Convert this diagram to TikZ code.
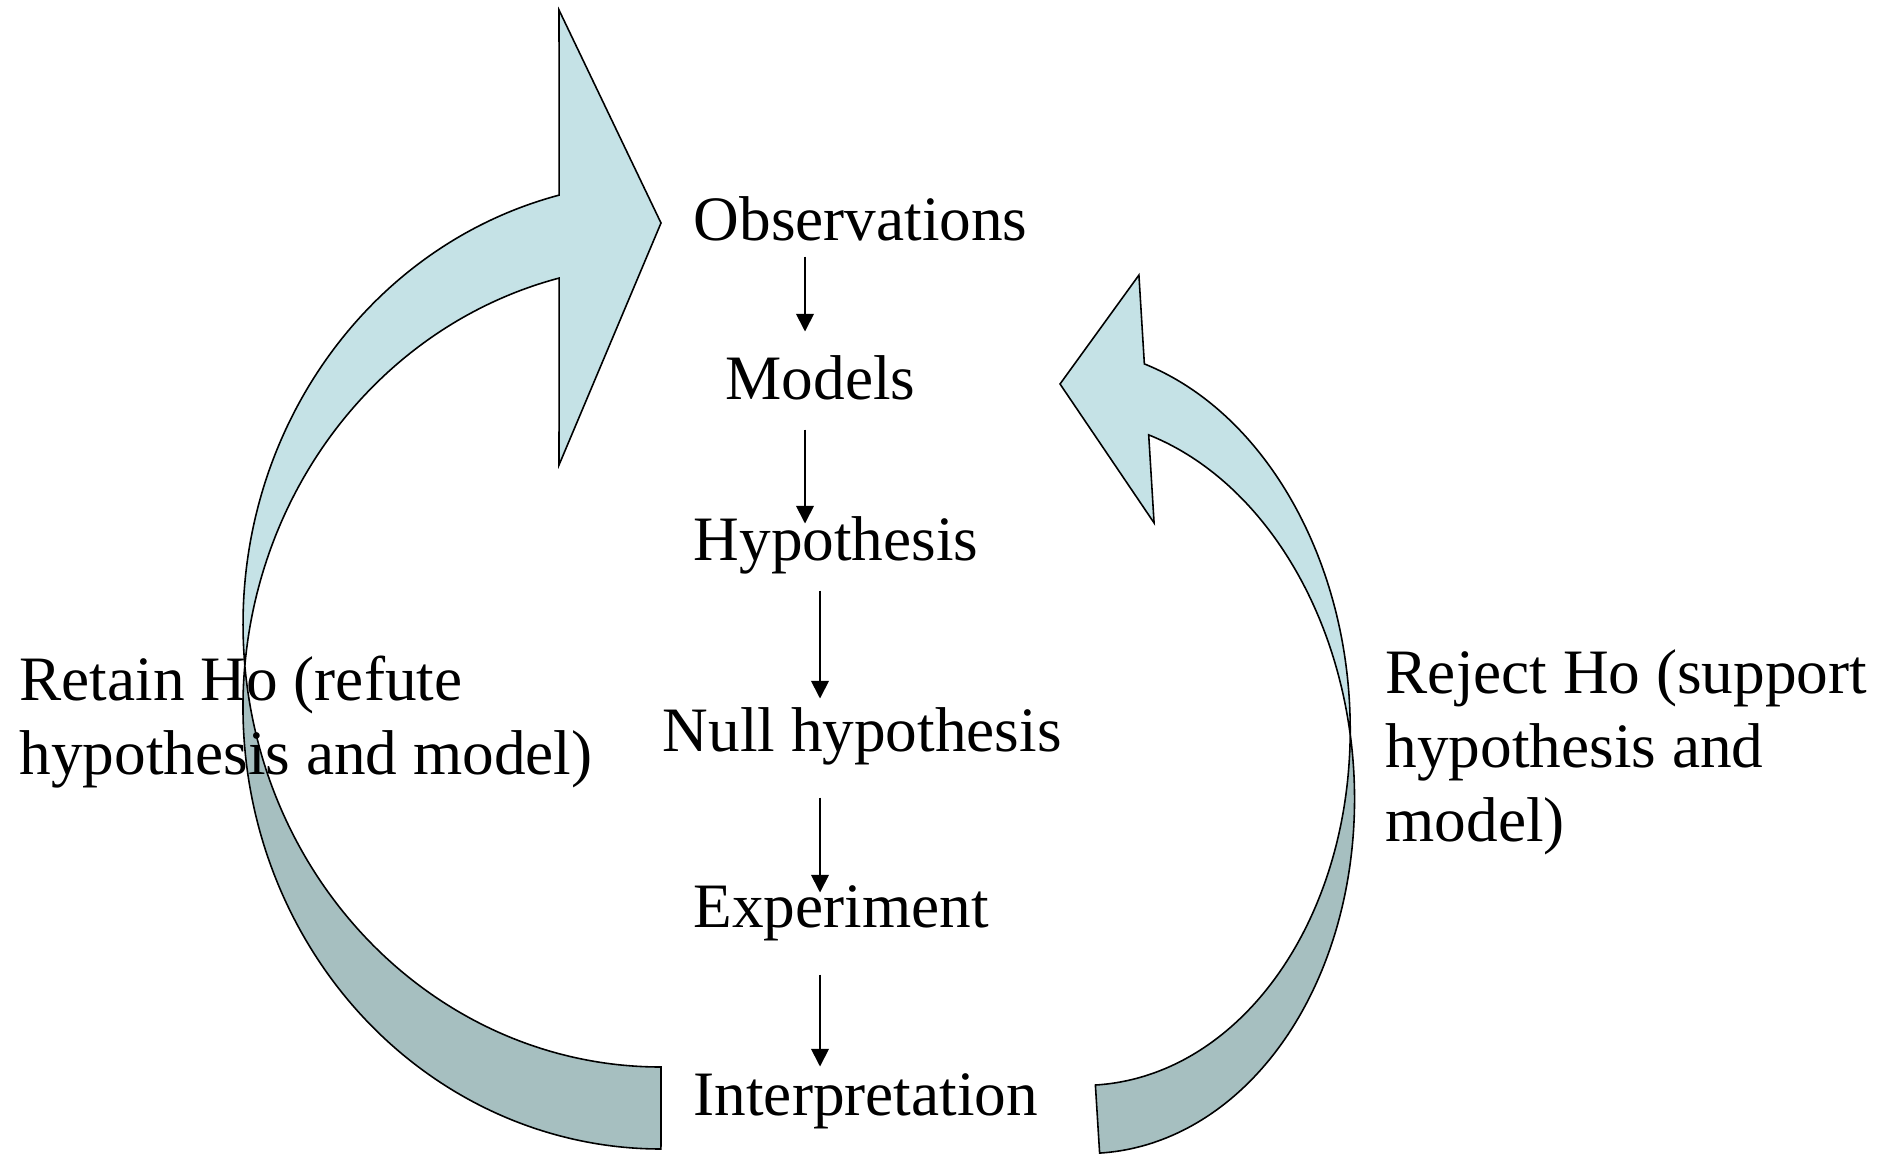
\documentclass[tikz,border=0pt]{standalone}
\usepackage{fontspec}
\setmainfont{Liberation Serif}
\usetikzlibrary{arrows.meta,calc}

\definecolor{ribbonlight}{RGB}{197,226,230}
\definecolor{ribbondark}{RGB}{166,191,192}

\tikzset{
    stage/.style={anchor=base west, inner sep=0pt, text height=4.58mm, text depth=1.59mm},
    verdict/.style={anchor=base west, inner sep=0pt, align=left},
    ribbon/.style={draw=black, line width=0.45pt},
    flow/.style={->, line width=0.5pt},
}

\begin{document}
\begin{tikzpicture}[x=0.1mm, y=0.1mm, >={Triangle[length=5pt,width=5pt]},
    font=\fontsize{18}{21}\selectfont]
    \useasboundingbox (0,0) rectangle (1880,1155);

    % left loop, back side then front with the head
    \filldraw[ribbon, fill=ribbondark] (244.8,489.4)
        arc[start angle=174.64, end angle=270, x radius=418, y radius=442.1]
        -- (661,88)
        arc[start angle=270, end angle=185.34, x radius=418, y radius=442.6] -- cycle;
    \filldraw[ribbon, fill=ribbonlight] (559.2,959.9)
        arc[start angle=104.1, end angle=185.34, x radius=418, y radius=442.6]
        arc[start angle=174.64, end angle=104.1, x radius=418, y radius=442.1]
        -- (559,690) -- (661,932) -- (559,1145) -- cycle;

    % right loop, slightly tilted
    \begin{scope}[shift={(1225,398)}, rotate=3.5]
        \filldraw[ribbon, fill=ribbondark] (126.4,14.75)
            arc[start angle=5.44, end angle=-90, x radius=277, y radius=367.6]
            -- (-149.4,-319.5)
            arc[start angle=-90, end angle=-5.42, x radius=277, y radius=369.1] -- cycle;
        \filldraw[ribbon, fill=ribbonlight] (-56.5,397.3)
            arc[start angle=70.4, end angle=-5.42, x radius=277, y radius=369.1]
            arc[start angle=5.44, end angle=70.4, x radius=277, y radius=367.6]
            -- (-56.5,238) -- (-141.9,382.4) -- (-56.5,486.3) -- cycle;
    \end{scope}

    \node[stage] (obs) at (693,915) {Observations};
    \node[stage] (models) at (725,756) {Models};
    \node[stage] (hyp) at (693,595) {Hypothesis};
    \node[stage] (nullhyp) at (662,404) {Null hypothesis};
    \node[stage] (exp) at (693,228) {Experiment};
    \node[stage] (interp) at (693,40) {Interpretation};

    \node[verdict] (retain) at (19,381) {Retain Ho (refute\\hypothesis and model)};
    \node[verdict] (reject) at (1385,314) {Reject Ho (support\\hypothesis and\\model)};

    \coordinate (colA) at (805,0);
    \coordinate (colB) at (820,0);
    \foreach \a/\b/\col/\up/\dn in {obs/models/colA/0/21, models/hyp/colA/-14/-10,
        hyp/nullhyp/colB/-14/6, nullhyp/exp/colB/-30/-12, exp/interp/colB/-31/2}
        \draw[flow] ($(\a.south -| \col)+(0,\up)$) -- ($(\b.north -| \col)+(0,\dn)$);
\end{tikzpicture}
\end{document}
